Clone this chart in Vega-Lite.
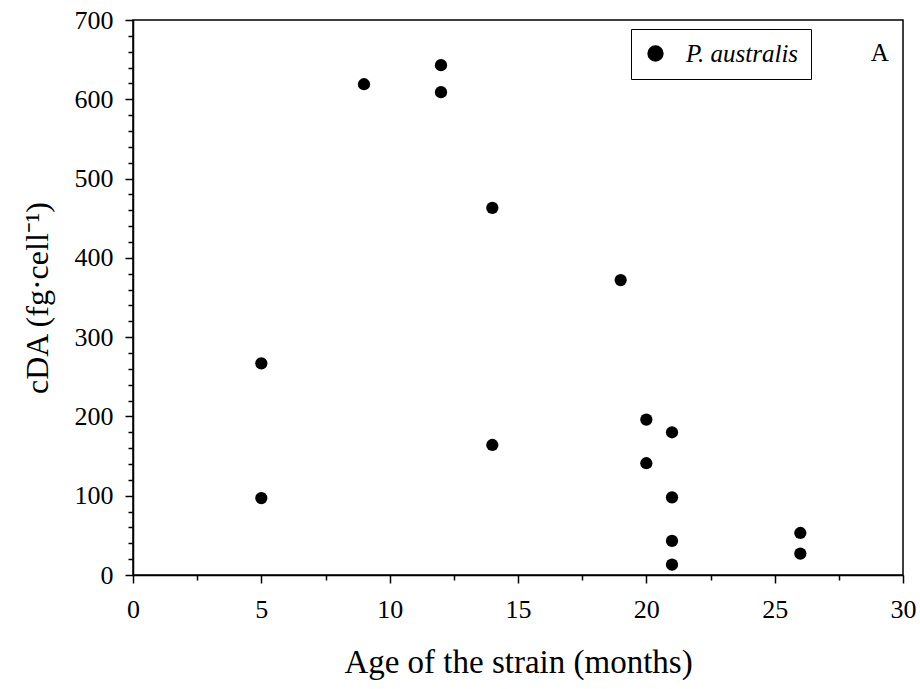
{
  "$schema": "https://vega.github.io/schema/vega-lite/v6.json",
  "autosize": {"type": "none"},
  "width": 770,
  "height": 555,
  "padding": {"left": 133, "top": 20, "right": 17, "bottom": 114},
  "background": "white",
  "config": {
    "font": "Liberation Serif",
    "view": {"stroke": "black", "strokeWidth": 1.5},
    "axis": {
      "grid": false,
      "domainColor": "black",
      "domainWidth": 1.5,
      "tickColor": "black",
      "tickWidth": 1.5,
      "labelColor": "black",
      "labelFont": "Liberation Serif",
      "labelFontSize": 26,
      "labelOverlap": false,
      "labelFlush": false,
      "titleFont": "Liberation Serif",
      "titleFontWeight": "normal",
      "titleColor": "black"
    },
    "axisX": {
      "tickSize": {"condition": {"test": "datum.value % 5 === 0", "value": 8}, "value": 5},
      "labelPadding": 13,
      "titleFontSize": 33,
      "titlePadding": 24
    },
    "axisY": {
      "tickSize": {"condition": {"test": "datum.value % 100 === 0", "value": 8}, "value": 5},
      "labelPadding": 12,
      "titleFontSize": 32,
      "titlePadding": 20
    }
  },
  "layer": [
    {
      "data": {
        "values": [
          {"age": 5, "cda": 267, "species": "P. australis"},
          {"age": 5, "cda": 97, "species": "P. australis"},
          {"age": 9, "cda": 619, "species": "P. australis"},
          {"age": 12, "cda": 643, "species": "P. australis"},
          {"age": 12, "cda": 609, "species": "P. australis"},
          {"age": 14, "cda": 463, "species": "P. australis"},
          {"age": 14, "cda": 164, "species": "P. australis"},
          {"age": 19, "cda": 372, "species": "P. australis"},
          {"age": 20, "cda": 196, "species": "P. australis"},
          {"age": 20, "cda": 141, "species": "P. australis"},
          {"age": 21, "cda": 180, "species": "P. australis"},
          {"age": 21, "cda": 98, "species": "P. australis"},
          {"age": 21, "cda": 43, "species": "P. australis"},
          {"age": 21, "cda": 13, "species": "P. australis"},
          {"age": 26, "cda": 53, "species": "P. australis"},
          {"age": 26, "cda": 27, "species": "P. australis"}
        ]
      },
      "mark": {"type": "point", "filled": true, "opacity": 1, "size": 150, "shape": "circle"},
      "encoding": {
        "x": {
          "field": "age", "type": "quantitative",
          "scale": {"domain": [0, 30], "nice": false, "zero": false},
          "axis": {
            "title": "Age of the strain (months)",
            "values": [0, 2.5, 5, 7.5, 10, 12.5, 15, 17.5, 20, 22.5, 25, 27.5, 30],
            "labelExpr": "datum.value % 5 === 0 ? datum.label : ''"
          }
        },
        "y": {
          "field": "cda", "type": "quantitative",
          "scale": {"domain": [0, 700], "nice": false, "zero": false},
          "axis": {
            "title": "cDA (fg·cell⁻¹)",
            "values": [0,20,40,60,80,100,120,140,160,180,200,220,240,260,280,300,320,340,360,380,400,420,440,460,480,500,520,540,560,580,600,620,640,660,680,700],
            "labelExpr": "datum.value % 100 === 0 ? datum.label : ''"
          }
        },
        "color": {
          "field": "species", "type": "nominal",
          "scale": {"range": ["black"]},
          "legend": {
            "title": null,
            "orient": "none",
            "legendX": 498,
            "legendY": 9,
            "strokeColor": "black",
            "padding": 12,
            "symbolType": "circle",
            "symbolSize": 220,
            "symbolFillColor": "black",
            "symbolStrokeColor": "black",
            "labelFont": "Liberation Serif",
            "labelFontSize": 25,
            "labelFontStyle": "italic",
            "labelColor": "black",
            "labelOffset": 18,
            "symbolOffset": 0,
            "labelLimit": 400,
            "labelExpr": "datum.label + '\u00a0\u00a0\u00a0\u00a0\u00a0\u00a0\u00a0'"
          }
        }
      }
    },
    {
      "data": {"values": [{"px": 29.1, "py": 658, "panel": "A"}]},
      "mark": {"type": "text", "font": "Liberation Serif", "fontSize": 25, "fontWeight": "normal", "color": "black", "align": "center", "baseline": "middle"},
      "encoding": {
        "x": {
          "field": "px", "type": "quantitative",
          "axis": {
            "title": "Age of the strain (months)",
            "values": [0, 2.5, 5, 7.5, 10, 12.5, 15, 17.5, 20, 22.5, 25, 27.5, 30],
            "labelExpr": "datum.value % 5 === 0 ? datum.label : ''"
          }
        },
        "y": {
          "field": "py", "type": "quantitative",
          "axis": {
            "title": "cDA (fg·cell⁻¹)",
            "values": [0,20,40,60,80,100,120,140,160,180,200,220,240,260,280,300,320,340,360,380,400,420,440,460,480,500,520,540,560,580,600,620,640,660,680,700],
            "labelExpr": "datum.value % 100 === 0 ? datum.label : ''"
          }
        },
        "text": {"field": "panel", "type": "nominal"}
      }
    }
  ]
}
